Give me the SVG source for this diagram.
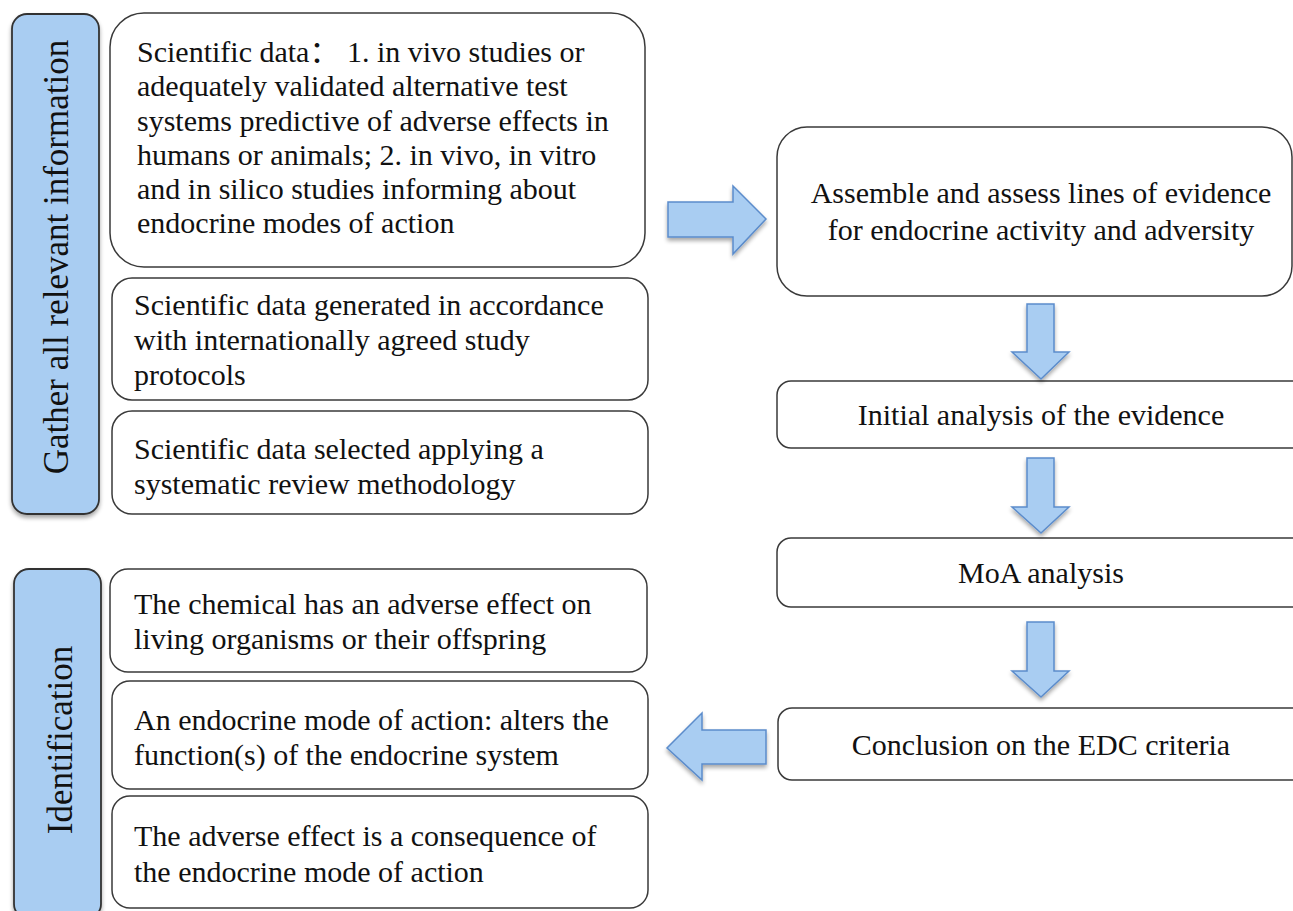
<svg xmlns="http://www.w3.org/2000/svg" width="1293" height="911" viewBox="0 0 1293 911">
  <defs>
    <filter id="shadow" x="-20%" y="-20%" width="140%" height="140%">
      <feGaussianBlur in="SourceAlpha" stdDeviation="2"/>
      <feOffset dx="0" dy="3" result="b"/>
      <feComponentTransfer><feFuncA type="linear" slope="0.35"/></feComponentTransfer>
      <feMerge><feMergeNode/><feMergeNode in="SourceGraphic"/></feMerge>
    </filter>
    <style>
      .box { fill: #ffffff; stroke: #3a3a3a; stroke-width: 1.5; }
      .bar { fill: #a9cdf2; stroke: #333333; stroke-width: 1.8; }
      .arrow { fill: #a9cdf2; stroke: #5b8ccb; stroke-width: 1.5; stroke-linejoin: miter; }
      .t { font-family: "Liberation Serif", "Times New Roman", "Noto Sans CJK SC", serif; font-size: 30px; fill: #111111; white-space: pre; }
      .c { text-anchor: middle; }
      .side { font-family: "Liberation Serif", "Times New Roman", serif; font-size: 35px; fill: #111111; text-anchor: middle; }
    </style>
  </defs>
  <rect width="1293" height="911" fill="#ffffff"/>

  <!-- Section: gathering information -->
  <g id="bar-gather">
    <rect class="bar" x="12" y="14" width="87" height="500" rx="15" filter="url(#shadow)"/>
    <text class="side" transform="translate(68,257) rotate(-90)">Gather all relevant information</text>
  </g>
  <g id="data-vivo">
    <rect class="box" x="110" y="13" width="535" height="254" rx="34"/>
    <text class="t" x="137" y="62">Scientific data： 1. in vivo studies or</text>
    <text class="t" x="137" y="96">adequately validated alternative test</text>
    <text class="t" x="137" y="131">systems predictive of adverse effects in</text>
    <text class="t" x="137" y="165">humans or animals; 2. in vivo, in vitro</text>
    <text class="t" x="137" y="199">and in silico studies informing about</text>
    <text class="t" x="137" y="233">endocrine modes of action</text>
  </g>
  <g id="data-protocols">
    <rect class="box" x="112" y="278" width="536" height="122" rx="20"/>
    <text class="t" x="134" y="315">Scientific data generated in accordance</text>
    <text class="t" x="134" y="350">with internationally agreed study</text>
    <text class="t" x="134" y="385">protocols</text>
  </g>
  <g id="data-review">
    <rect class="box" x="112" y="411" width="536" height="103" rx="20"/>
    <text class="t" x="134" y="459">Scientific data selected applying a</text>
    <text class="t" x="134" y="494">systematic review methodology</text>
  </g>

  <!-- Section: identification -->
  <g id="bar-identification">
    <rect class="bar" x="14" y="569" width="87" height="350" rx="15" filter="url(#shadow)"/>
    <text class="side" transform="translate(72,740) rotate(-90)">Identification</text>
  </g>
  <g id="adverse-effect">
    <rect class="box" x="110" y="569" width="537" height="103" rx="18"/>
    <text class="t" x="134" y="614">The chemical has an adverse effect on</text>
    <text class="t" x="134" y="649">living organisms or their offspring</text>
  </g>
  <g id="endocrine-mode">
    <rect class="box" x="112" y="681" width="536" height="108" rx="18"/>
    <text class="t" x="134" y="730">An endocrine mode of action: alters the</text>
    <text class="t" x="134" y="765">function(s) of the endocrine system</text>
  </g>
  <g id="consequence">
    <rect class="box" x="112" y="796" width="536" height="112" rx="18"/>
    <text class="t" x="134" y="846">The adverse effect is a consequence of</text>
    <text class="t" x="134" y="882">the endocrine mode of action</text>
  </g>

  <!-- Assessment steps -->
  <g id="assemble">
    <rect class="box" x="777" y="127" width="515" height="169" rx="30"/>
    <text class="t c" x="1041" y="203">Assemble and assess lines of evidence</text>
    <text class="t c" x="1041" y="240">for endocrine activity and adversity</text>
  </g>
  <g id="initial-analysis">
    <rect class="box" x="777" y="381" width="530" height="67" rx="14"/>
    <text class="t c" x="1041" y="425">Initial analysis of the evidence</text>
  </g>
  <g id="moa-analysis">
    <rect class="box" x="777" y="538" width="530" height="69" rx="14"/>
    <text class="t c" x="1041" y="583">MoA analysis</text>
  </g>
  <g id="conclusion">
    <rect class="box" x="778" y="708" width="530" height="72" rx="14"/>
    <text class="t c" x="1041" y="755">Conclusion on the EDC criteria</text>
  </g>

  <!-- Block arrows between steps -->
  <g id="connectors" filter="url(#shadow)">
    <polygon class="arrow" points="668,202 733,202 733,186 766,219 733,254 733,237 668,237"/>
    <polygon class="arrow" points="1027,304 1054,304 1054,352 1069,352 1041,379 1012,352 1027,352"/>
    <polygon class="arrow" points="1027,458 1054,458 1054,507 1069,507 1041,533 1012,507 1027,507"/>
    <polygon class="arrow" points="1027,622 1054,622 1054,671 1069,671 1041,697 1012,671 1027,671"/>
    <polygon class="arrow" points="766,730 702,730 702,713 667,748 702,780 702,764 766,764"/>
  </g>
</svg>
